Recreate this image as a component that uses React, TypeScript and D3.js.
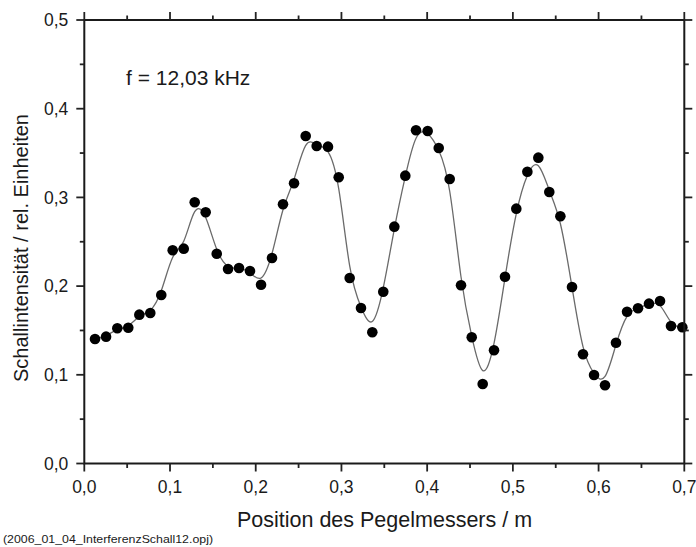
import React from "react";
import * as d3 from "d3";

const xValues = [
  0.0125, 0.0254, 0.0385, 0.0513, 0.0642, 0.077, 0.0898, 0.1031, 0.116, 0.1288,
  0.1416, 0.1545, 0.1677, 0.1805, 0.1933, 0.2062, 0.219, 0.2318, 0.2447, 0.2583,
  0.2711, 0.2843, 0.2968, 0.3096, 0.3228, 0.336, 0.3488, 0.3617, 0.3745, 0.387,
  0.4006, 0.4135, 0.4263, 0.4395, 0.452, 0.4648, 0.478, 0.4908, 0.504, 0.5169,
  0.5297, 0.5425, 0.5554, 0.569, 0.5818, 0.5947, 0.6075, 0.6203, 0.6332, 0.646,
  0.6588, 0.6717, 0.6845, 0.6977,
];
const yValues = [
  0.1404, 0.143, 0.1524, 0.1531, 0.1678, 0.1697, 0.19, 0.2404, 0.2422, 0.2945,
  0.2832, 0.2365, 0.2193, 0.2204, 0.217, 0.2016, 0.2317, 0.2922, 0.3159, 0.3692,
  0.358, 0.3572, 0.3227, 0.2091, 0.1753, 0.1479, 0.1937, 0.267, 0.3245, 0.3757,
  0.3749, 0.3557, 0.3208, 0.2009, 0.1423, 0.0896, 0.1276, 0.2106, 0.2873, 0.329,
  0.3448, 0.3061, 0.2787, 0.199, 0.1231, 0.0998, 0.0882, 0.1362, 0.1711, 0.175,
  0.1802, 0.1832, 0.155, 0.1536,
];
const xMajorTicks = [0, 0.1, 0.2, 0.3, 0.4, 0.5, 0.6, 0.7];
const xMinorTicks = [0.05, 0.15, 0.25, 0.35, 0.45, 0.55, 0.65];
const yMajorTicks = [0, 0.1, 0.2, 0.3, 0.4, 0.5];
const yMinorTicks = [0.05, 0.15, 0.25, 0.35, 0.45];
const xTitle = "Position des Pegelmessers / m";
const yTitle = "Schallintensität / rel. Einheiten";
const annotation = "f = 12,03 kHz";
const footnote = "(2006_01_04_InterferenzSchall12.opj)";

const W = 696;
const H = 547;
const left = 84.3;
const right = 684.3;
const top = 20;
const bottom = 463.5;
const font = "Arial, 'Liberation Sans', sans-serif";

const fmt = (v: number) => v.toFixed(1).replace(".", ",");

export default function App() {
  const x = d3.scaleLinear().domain([0, 0.7]).range([left, right]);
  const y = d3.scaleLinear().domain([0, 0.5]).range([bottom, top]);
  const pts: [number, number][] = xValues.map((v, i) => [v, yValues[i]]);
  const line = d3
    .line<[number, number]>()
    .x((d) => x(d[0]))
    .y((d) => y(d[1]))
    .curve(d3.curveBasis);

  const major = 8;
  const minor = 4.5;
  const tickColor = "#222";

  return (
    <svg
      width={W}
      height={H}
      style={{ position: "absolute", left: 0, top: 0, background: "#fff" }}
      fontFamily={font}
    >
      <rect x={0} y={0} width={W} height={H} fill="#fff" />
      <path d={line(pts) || ""} fill="none" stroke="#6a6a6a" strokeWidth={1.3} />
      {pts.map((d, i) => (
        <circle key={i} cx={x(d[0])} cy={y(d[1])} r={5.3} fill="#000" />
      ))}
      <rect
        x={left}
        y={top}
        width={right - left}
        height={bottom - top}
        fill="none"
        stroke="#1a1a1a"
        strokeWidth={2}
      />
      {xMajorTicks.map((t) => (
        <g key={"xm" + t}>
          <line x1={x(t)} x2={x(t)} y1={bottom} y2={bottom + major} stroke={tickColor} strokeWidth={1.8} />
          <line x1={x(t)} x2={x(t)} y1={top} y2={top - major} stroke={tickColor} strokeWidth={1.8} />
          <text x={x(t)} y={bottom + 29.5} textAnchor="middle" fontSize={17.5} fill="#1a1a1a">
            {fmt(t)}
          </text>
        </g>
      ))}
      {xMinorTicks.map((t) => (
        <g key={"xn" + t}>
          <line x1={x(t)} x2={x(t)} y1={bottom} y2={bottom + minor} stroke={tickColor} strokeWidth={1.8} />
          <line x1={x(t)} x2={x(t)} y1={top} y2={top - minor} stroke={tickColor} strokeWidth={1.8} />
        </g>
      ))}
      {yMajorTicks.map((t) => (
        <g key={"ym" + t}>
          <line x1={left} x2={left - major} y1={y(t)} y2={y(t)} stroke={tickColor} strokeWidth={1.8} />
          <line x1={right} x2={right + major} y1={y(t)} y2={y(t)} stroke={tickColor} strokeWidth={1.8} />
          <text x={left - 16} y={y(t) + 6.3} textAnchor="end" fontSize={17.5} fill="#1a1a1a">
            {fmt(t)}
          </text>
        </g>
      ))}
      {yMinorTicks.map((t) => (
        <g key={"yn" + t}>
          <line x1={left} x2={left - minor} y1={y(t)} y2={y(t)} stroke={tickColor} strokeWidth={1.8} />
          <line x1={right} x2={right + minor} y1={y(t)} y2={y(t)} stroke={tickColor} strokeWidth={1.8} />
        </g>
      ))}
      <text x={384.5} y={527} textAnchor="middle" fontSize={21.5} fill="#1a1a1a">
        {xTitle}
      </text>
      <text
        transform={`translate(28, 248) rotate(-90)`}
        textAnchor="middle"
        fontSize={20}
        fill="#1a1a1a"
      >
        {yTitle}
      </text>
      <text x={126} y={85} fontSize={21} fill="#1a1a1a">
        {annotation}
      </text>
      <text x={3} y={543} fontSize={11} textLength={210} lengthAdjust="spacingAndGlyphs" fill="#1a1a1a">
        {footnote}
      </text>
    </svg>
  );
}
